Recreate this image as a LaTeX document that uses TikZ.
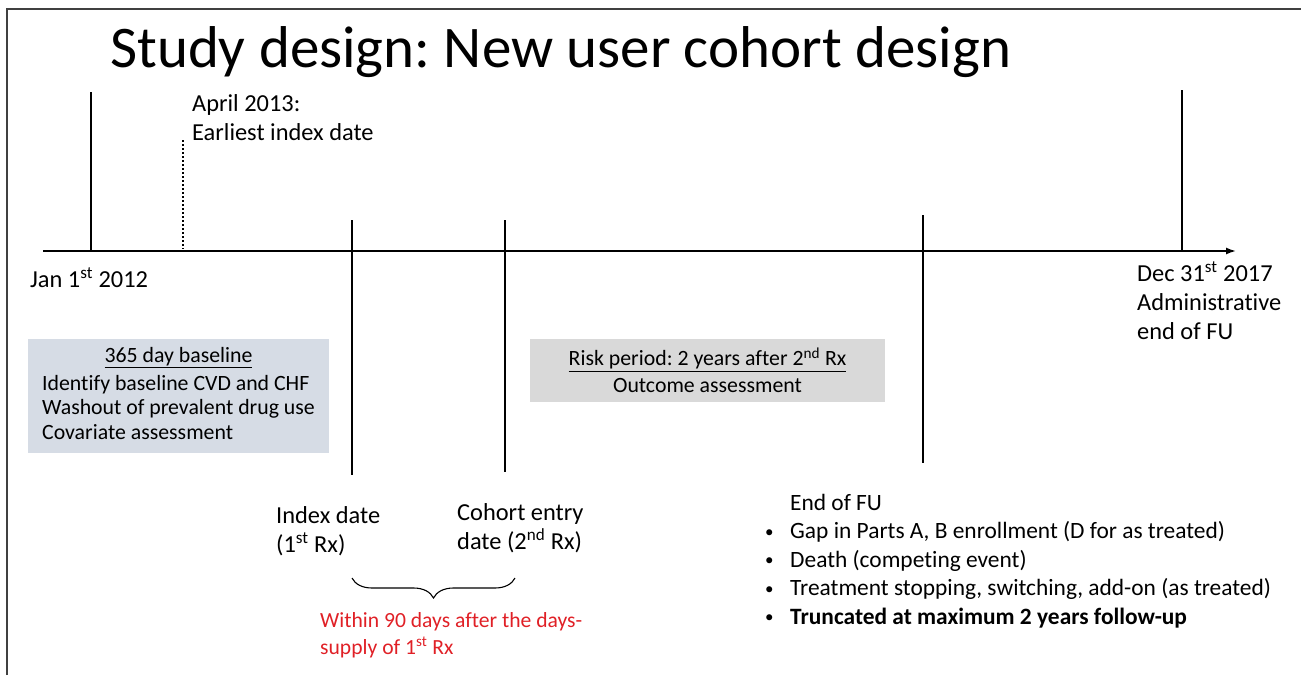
\documentclass[tikz,border=0pt]{standalone}
\usepackage{fontspec}
\setmainfont{Carlito}[Ligatures=NoCommon]
\usetikzlibrary{arrows.meta,positioning,decorations.pathreplacing}
\definecolor{boxblue}{HTML}{D6DCE5}
\definecolor{boxgrey}{HTML}{D9D9D9}
\definecolor{notered}{RGB}{224,32,38}
\newcommand{\smallbullet}{\raisebox{1.5pt}{\fontsize{17}{17}\selectfont\textbullet}}
\frenchspacing
\tikzset{
  txt/.style={anchor=north west,inner sep=0pt,align=left,font=\fontsize{24.4}{29}\selectfont},
  tickline/.style={line width=1.6pt},
  axisline/.style={line width=1.6pt},
  dotline/.style={line width=1.4pt,dash pattern=on 2pt off 2pt},
  period/.style={inner sep=0pt,font=\fontsize{21.8}{24.5}\selectfont},
  bracepath/.style={line width=1.1pt,decorate,decoration={brace,mirror,amplitude=20pt}}
}

\begin{document}
\begin{tikzpicture}[x=1pt,y=-1pt,>={Latex[length=10pt,width=7pt]}]
\useasboundingbox (0,0) rectangle (1301,675);
\draw[line width=2pt,black!75] (7,675) -- (7,9) -- (1301,9);
\node[anchor=base west,inner sep=0pt,font=\fontsize{59}{64}\selectfont] (title) at (110,67) {Study design: New user cohort design};

\coordinate (start) at (43,251);
\coordinate (stop) at (1236,251);
\draw[axisline,->] (start) -- (stop);

\coordinate (jantop) at (91,92);
\coordinate (janbot) at (91,251);
\coordinate (aprtop) at (183,140);
\coordinate (aprbot) at (183,249);
\coordinate (idxtop) at (352,220);
\coordinate (idxbot) at (352,475);
\coordinate (cohtop) at (505,220);
\coordinate (cohbot) at (505,472);
\coordinate (endtop) at (923,215);
\coordinate (endbot) at (923,463);
\coordinate (dectop) at (1182,90);
\coordinate (decbot) at (1182,251);
\draw[tickline] (jantop) -- (janbot);
\draw[dotline] (aprtop) -- (aprbot);
\draw[tickline] (idxtop) -- (idxbot);
\draw[tickline] (cohtop) -- (cohbot);
\draw[tickline] (endtop) -- (endbot);
\draw[tickline] (dectop) -- (decbot);

\node[txt] (jan) at (30,267) {Jan 1\textsuperscript{st} 2012};
\node[txt] (apr) at (192,94) {April 2013:\\Earliest index date};
\node[txt] (dec) at (1137,261) {Dec 31\textsuperscript{st} 2017\\Administrative\\end of FU};

\node[period,fill=boxblue,minimum width=301pt,minimum height=114pt] (base) at (178.5,396) {\begin{tabular}{@{}l@{}}\multicolumn{1}{@{}c@{}}{\underline{365 day baseline}}\\[3pt]
Identify baseline CVD and CHF\\
Washout of prevalent drug use\\
Covariate assessment\end{tabular}};
\node[period,fill=boxgrey,minimum width=355pt,minimum height=63pt,align=center,font=\fontsize{21.8}{27}\selectfont] (risk) at (707.5,370.5) {\underline{Risk period: 2 years after 2\textsuperscript{nd} Rx}\\Outcome assessment};

\node[txt] (idx) at (276,506) {Index date\\(1\textsuperscript{st} Rx)};
\node[txt] (coh) at (457,503) {Cohort entry\\date (2\textsuperscript{nd} Rx)};

\coordinate (brl) at (352,578);
\coordinate (brr) at (515,578);
\draw[bracepath] (brl) -- (brr);
\node[txt,text=notered,font=\fontsize{21.6}{27}\selectfont] (gap) at (320,612) {Within 90 days after the days-\\supply of 1\textsuperscript{st} Rx};

\node[txt,font=\fontsize{23.4}{28.5}\selectfont] (endfu) at (765,490) {\begin{tabular}{@{}l@{}l@{}}
 & End of FU\\
\makebox[25pt][l]{\smallbullet} & Gap in Parts A, B enrollment (D for as treated)\\
\smallbullet & Death (competing event)\\
\smallbullet & Treatment stopping, switching, add-on (as treated)\\
\smallbullet & \textbf{Truncated at maximum 2 years follow-up}
\end{tabular}};
\end{tikzpicture}
\end{document}
